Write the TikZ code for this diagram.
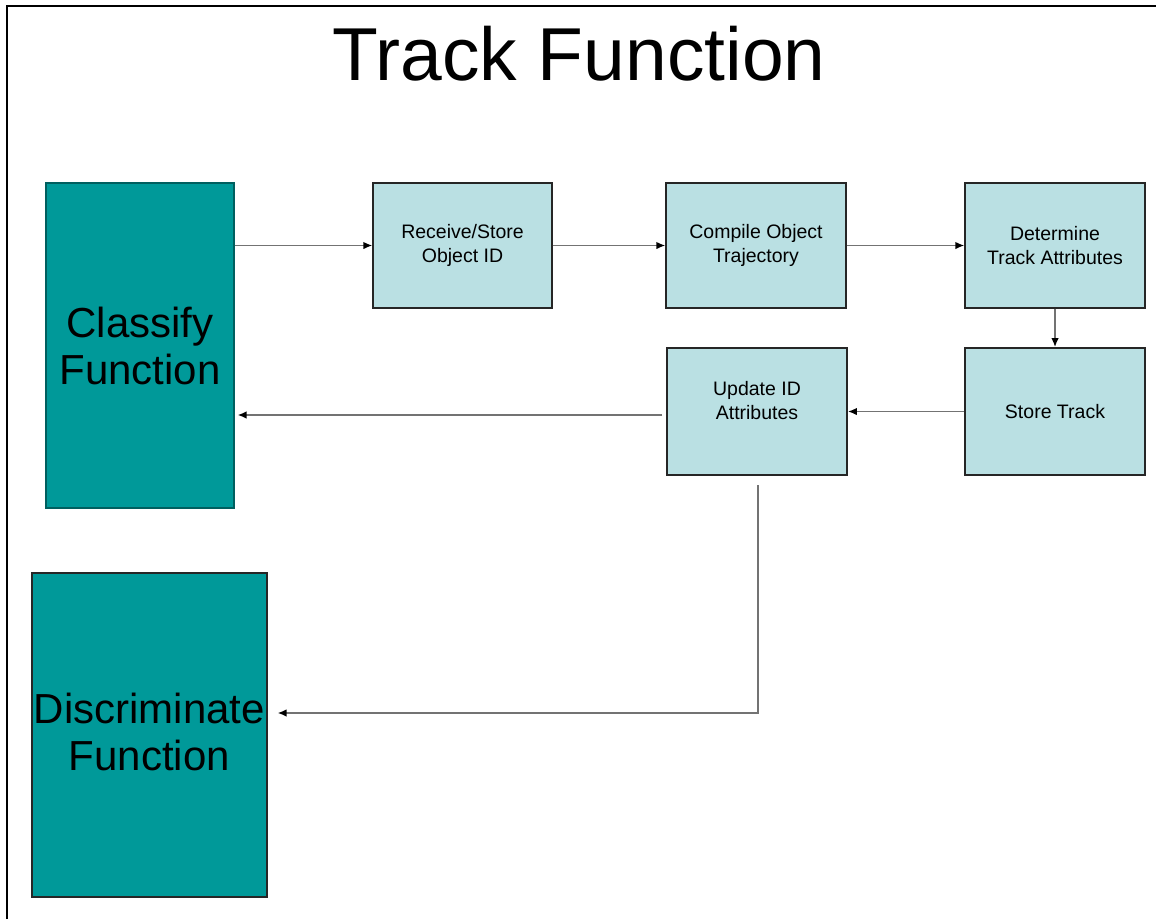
\documentclass[tikz,border=0pt]{standalone}
\usepackage{fontspec}
\setmainfont{Liberation Sans}
\usetikzlibrary{arrows.meta,calc}
\definecolor{tealfill}{RGB}{0,153,153}
\definecolor{tealedge}{RGB}{0,95,95}
\definecolor{lightfill}{RGB}{186,224,227}
\definecolor{conn}{RGB}{115,115,115}
\tikzset{
  bigbox/.style={draw=tealedge, line width=1.2pt, fill=tealfill, align=center, inner sep=0pt,
    font=\fontsize{42}{47}\selectfont},
  smallbox/.style={draw=black!85, line width=1.3pt, fill=lightfill, align=center, inner sep=0pt,
    font=\fontsize{19.5}{23.5}\selectfont},
  arr/.style={draw=conn, line width=1.6pt, -{Latex[length=9pt,width=7.5pt,black]}},
}
\begin{document}
\begin{tikzpicture}[x=1pt,y=-1pt]
\useasboundingbox (0,0) rectangle (1156,919);
\fill[white] (0,0) rectangle (1156,919);
\draw[line width=2pt, black] (7,919) -- (7,6) -- (1156,6);
\node[anchor=base, font=\fontsize{75}{80}\selectfont] (title) at (579,80) {Track Function};

\node[bigbox, minimum width=188pt, minimum height=325pt] (classify) at (140,345.5) {Classify\\Function};
\node[bigbox, draw=black!85, minimum width=235pt, minimum height=324pt,
  label={[font=\fontsize{42}{47}\selectfont, align=center, yshift=3pt]center:Discriminate\\Function}] (discr) at (149.5,735) {};

\node[smallbox, minimum width=179pt, minimum height=125pt] (recv) at (462.5,245.5) {Receive/Store\\Object ID};
\node[smallbox, minimum width=180pt, minimum height=125pt] (comp) at (756,245.5) {Compile Object\\Trajectory};
\node[smallbox, minimum width=180pt, minimum height=125pt] (det) at (1055,245.5) {Determine\\Track Attributes};
\node[smallbox, line width=1.8pt, minimum width=180pt, minimum height=127pt,
  label={[font=\fontsize{19.5}{23.5}\selectfont, align=center, yshift=11pt]center:Update ID\\Attributes}] (upd) at (757,411.5) {};
\node[smallbox, line width=1.8pt, minimum width=180pt, minimum height=127pt] (store) at (1055,411.5) {Store Track};

\draw[arr] (recv.west -| classify.east) -- (recv.west);
\draw[arr] (recv.east) -- (comp.west);
\draw[arr] (comp.east) -- (det.west);
\draw[arr] (det.south) -- (store.north);
\draw[arr] (store.west) -- (upd.east);

\coordinate (c1) at (662,415);
\draw[arr, shorten >=3pt] (c1) -- (c1 -| classify.east);

\coordinate (c2) at (758,485);
\coordinate (bend) at (758,713);
\draw[arr, shorten >=10pt] (c2) -- (bend) -- (bend -| discr.east);
\end{tikzpicture}
\end{document}
